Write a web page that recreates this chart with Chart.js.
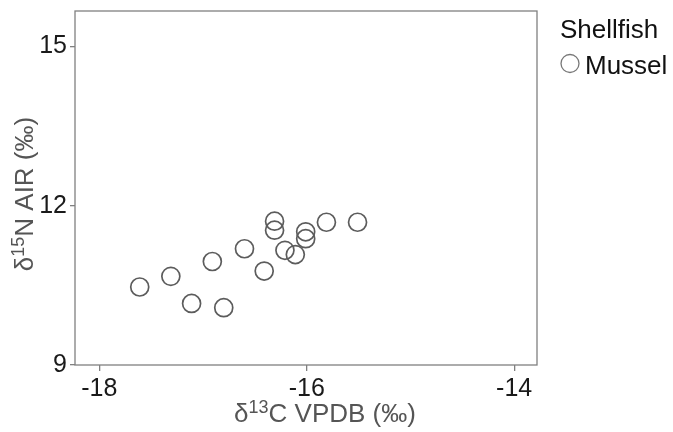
<!DOCTYPE html>
<html>
<head>
<meta charset="utf-8">
<script src="https://cdn.jsdelivr.net/npm/chart.js@4.4.1/dist/chart.umd.min.js"></script>
<style>
  html, body { margin: 0; padding: 0; background: #fff; }
  #wrap { width: 673px; height: 432px; }
</style>
</head>
<body>
<div id="wrap"><canvas id="chart" width="673" height="432"></canvas></div>
<script>
// values
const carbon   = [-17.61, -17.31, -17.11, -16.91, -16.80, -16.60, -16.41, -16.31, -16.31, -16.21, -16.11, -16.01, -16.01, -15.81, -15.51];
const nitrogen = [10.47, 10.67, 10.16, 10.95, 10.08, 11.19, 10.77, 11.71, 11.54, 11.16, 11.08, 11.51, 11.38, 11.69, 11.69];
const xTicks = [-18, -16, -14];
const yTicks = [9, 12, 15];
const seriesName = 'Mussel';
const legendTitle = 'Shellfish';
// titles as [text, superscript?] pieces
const xTitle = [['δ', false], ['13', true], ['C VPDB (‰)', false]];
const yTitle = [['δ', false], ['15', true], ['N AIR (‰)', false]];

const FONT = "'Liberation Sans', Arial, sans-serif";
const AXIS_GRAY = '#808080';
const TITLE_SIZE = 26;
const SUP_SIZE = 18;

function drawRich(ctx, parts, cx, cy) {
    const font = (sup) => (sup ? SUP_SIZE : TITLE_SIZE) + 'px ' + FONT;
    let total = 0;
    parts.forEach(([t, sup]) => { ctx.font = font(sup); total += ctx.measureText(t).width; });
    let x = cx - total / 2;
    ctx.textAlign = 'left';
    ctx.textBaseline = 'alphabetic';
    const base = cy + TITLE_SIZE * 0.36;
    parts.forEach(([t, sup]) => {
        ctx.font = font(sup);
        ctx.fillText(t, x, sup ? base - TITLE_SIZE * 0.36 : base);
        x += ctx.measureText(t).width;
    });
}

// frame, axis titles and legend drawn on the canvas
const decorations = {
    id: 'decorations',
    beforeDatasetsDraw(chart) {
        const { ctx, chartArea: a } = chart;
        ctx.save();
        ctx.strokeStyle = AXIS_GRAY;
        ctx.lineWidth = 1.3;
        ctx.strokeRect(a.left, a.top, a.right - a.left, a.bottom - a.top);
        ctx.restore();
    },
    afterDraw(chart) {
        const ctx = chart.ctx;
        ctx.save();
        ctx.fillStyle = '#555';
        drawRich(ctx, xTitle, 325, 413);
        ctx.translate(24, 194);
        ctx.rotate(-Math.PI / 2);
        drawRich(ctx, yTitle, 0, 0);
        ctx.restore();

        // legend
        ctx.save();
        ctx.fillStyle = '#111';
        ctx.font = '26px ' + FONT;
        ctx.textAlign = 'left';
        ctx.textBaseline = 'alphabetic';
        ctx.fillText(legendTitle, 560, 38);
        ctx.fillText(chart.data.datasets[0].label, 585, 74);
        ctx.beginPath();
        ctx.arc(570, 63.5, 9, 0, Math.PI * 2);
        ctx.strokeStyle = '#777';
        ctx.lineWidth = 1.3;
        ctx.stroke();
        ctx.restore();
    }
};

new Chart(document.getElementById('chart'), {
    type: 'scatter',
    data: {
        datasets: [{
            label: seriesName,
            data: carbon.map((c, i) => ({ x: c, y: nitrogen[i] })),
            pointRadius: 9,
            pointHoverRadius: 9,
            pointBorderWidth: 1.7,
            pointBorderColor: '#5c5c5c',
            pointBackgroundColor: 'rgba(255,255,255,0)'
        }]
    },
    options: {
        responsive: false,
        devicePixelRatio: 1,
        animation: false,
        layout: { padding: { top: 11, right: 136, left: 0, bottom: 0 } },
        plugins: {
            legend: { display: false },
            tooltip: { enabled: false }
        },
        scales: {
            x: {
                type: 'linear',
                min: -18.234,
                max: -13.78,
                afterBuildTicks: s => { s.ticks = xTicks.map(v => ({ value: v })); },
                afterFit: s => { s.height = 67; s.paddingLeft = 0; s.paddingRight = 0; },
                border: { display: false },
                grid: { drawOnChartArea: false, drawTicks: true, tickLength: 6, color: AXIS_GRAY, lineWidth: 1.3 },
                ticks: { color: '#1a1a1a', font: { family: FONT, size: 25 }, padding: 3, maxRotation: 0, autoSkip: false }
            },
            y: {
                type: 'linear',
                min: 9,
                max: 15.67,
                afterBuildTicks: s => { s.ticks = yTicks.map(v => ({ value: v })); },
                afterFit: s => { s.width = 75; s.paddingTop = 0; s.paddingBottom = 0; },
                border: { display: false },
                grid: { drawOnChartArea: false, drawTicks: true, tickLength: 5, color: AXIS_GRAY, lineWidth: 1.3 },
                ticks: { color: '#1a1a1a', font: { family: FONT, size: 25 }, padding: 3, autoSkip: false }
            }
        }
    },
    plugins: [decorations]
});
</script>
</body>
</html>
